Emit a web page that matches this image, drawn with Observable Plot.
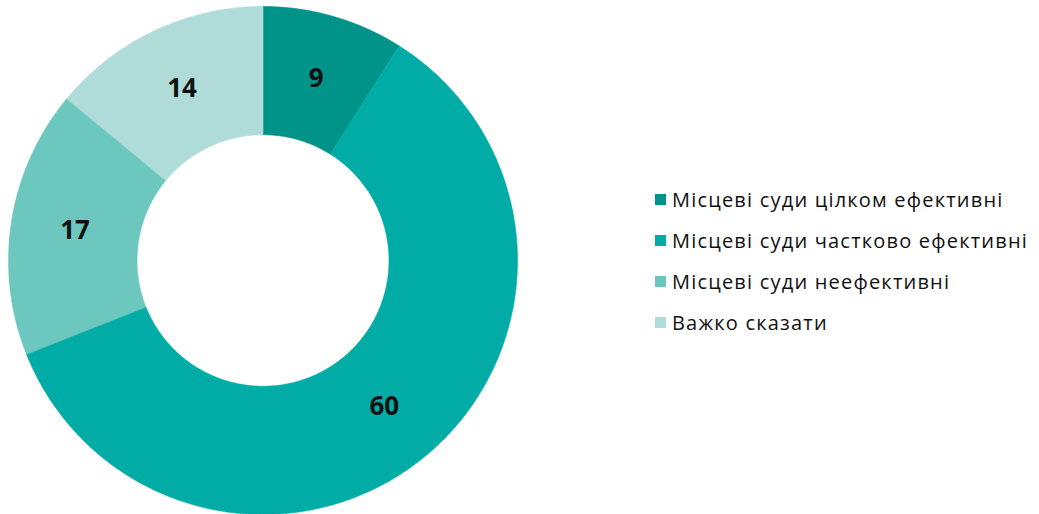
<!DOCTYPE html>
<html>
<head>
<meta charset="utf-8">
<script src="https://cdn.jsdelivr.net/npm/d3@7"></script>
<script src="https://cdn.jsdelivr.net/npm/@observablehq/plot@0.6"></script>
<style>
  html, body { margin: 0; padding: 0; background: #fff; }
  #wrap { position: relative; width: 1039px; height: 514px; overflow: hidden; }
  #legend { position: absolute; left: 655px; top: 179px; font-family: "Open Sans", sans-serif; font-size: 20px; letter-spacing: 1.2px; color: #111; }
  .row { display: flex; align-items: center; height: 41px; white-space: nowrap; }
  .sw { width: 11px; height: 11px; margin-right: 6px; }
</style>
</head>
<body>
<div id="wrap"><div id="chart"></div><div id="legend"></div></div>
<script>
const categories = ["Місцеві суди цілком ефективні", "Місцеві суди частково ефективні", "Місцеві суди неефективні", "Важко сказати"];
const values = [9, 60, 17, 14];
const colors = ["#00938a", "#00aca5", "#6cc7bf", "#afdcd8"];
const innerRatio = 0.495;

const pie = d3.pie().sort(null).value(d => d)(values);
const poly = [];
const labels = [];
pie.forEach((s, i) => {
  const n = Math.max(8, Math.ceil((s.endAngle - s.startAngle) / 0.01));
  const pts = [];
  for (let k = 0; k <= n; k++) {
    const a = s.startAngle + (s.endAngle - s.startAngle) * k / n;
    pts.push([Math.sin(a), Math.cos(a)]);
  }
  for (let k = n; k >= 0; k--) {
    const a = s.startAngle + (s.endAngle - s.startAngle) * k / n;
    pts.push([innerRatio * Math.sin(a), innerRatio * Math.cos(a)]);
  }
  pts.forEach(([x, y]) => poly.push({cat: categories[i], x, y}));
  const m = (s.startAngle + s.endAngle) / 2, r = (1 + innerRatio) / 2;
  labels.push({cat: categories[i], value: values[i], x: r * Math.sin(m), y: r * Math.cos(m)});
});

const chart = Plot.plot({
  width: 1039,
  height: 514,
  margin: 0,
  x: {domain: [-1, 1], range: [8, 517], axis: null},
  y: {domain: [-1, 1], range: [514, 6], axis: null},
  color: {domain: categories, range: colors},
  style: {background: "white"},
  marks: [
    Plot.line(poly, {x: "x", y: "y", z: "cat", fill: "cat", stroke: "cat", strokeWidth: 0.6, curve: "linear-closed"}),
    Plot.text(labels, {x: "x", y: "y", text: d => String(d.value), fontSize: 26, fontWeight: "bold", fill: "#111", fontFamily: "'Open Sans', sans-serif"})
  ]
});
document.getElementById("chart").appendChild(chart);

const legend = document.getElementById("legend");
categories.forEach((c, i) => {
  const row = document.createElement("div");
  row.className = "row";
  const sw = document.createElement("div");
  sw.className = "sw";
  sw.style.background = colors[i];
  const t = document.createElement("span");
  t.textContent = c;
  row.appendChild(sw); row.appendChild(t);
  legend.appendChild(row);
});
</script>
</body>
</html>
